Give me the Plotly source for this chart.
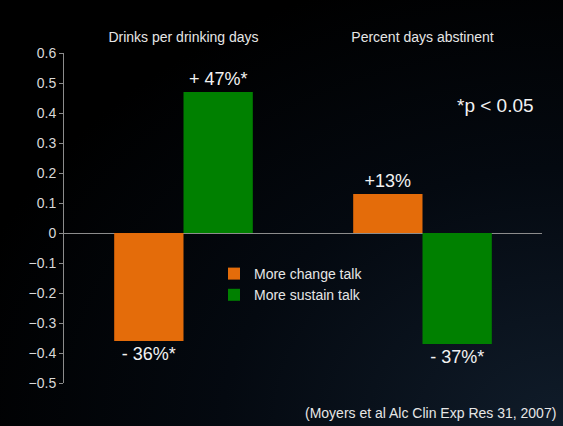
import base64
import plotly.graph_objects as go

categories = ["Drinks per drinking days", "Percent days abstinent"]
change_talk = [-0.36, 0.13]
sustain_talk = [0.47, -0.37]
change_labels = ["- 36%*", "+13%"]
sustain_labels = ["+ 47%*", "- 37%*"]
series_names = ["More change talk", "More sustain talk"]
y_ticks = [0.6, 0.5, 0.4, 0.3, 0.2, 0.1, 0, -0.1, -0.2, -0.3, -0.4, -0.5]

W, H = 563, 426
L, R, T, B = 64, 21, 53, 43
pw, ph = W - L - R, H - T - B
FONT = "Liberation Sans, Arial"

fig = go.Figure()
fig.add_trace(go.Bar(
    x=categories, y=change_talk, name=series_names[0],
    marker=dict(color="#E46C0A", line=dict(width=0)),
    text=change_labels, textposition="outside",
    textfont=dict(size=18, color="#f2f2f2", family=FONT),
    cliponaxis=False,
))
fig.add_trace(go.Bar(
    x=categories, y=sustain_talk, name=series_names[1],
    marker=dict(color="#008000", line=dict(width=0)),
    text=sustain_labels, textposition="outside",
    textfont=dict(size=18, color="#f2f2f2", family=FONT),
    cliponaxis=False,
))

svg = ('<svg xmlns="http://www.w3.org/2000/svg" width="563" height="426">'
       '<defs><radialGradient id="g" cx="1" cy="1" r="1.1" fx="1" fy="1">'
       '<stop offset="0" stop-color="#101c2a"/>'
       '<stop offset="0.55" stop-color="#040910"/>'
       '<stop offset="1" stop-color="#000000"/>'
       '</radialGradient></defs>'
       '<rect width="563" height="426" fill="url(#g)"/></svg>')
src = "data:image/svg+xml;base64," + base64.b64encode(svg.encode()).decode()

fig.update_layout(
    width=W, height=H,
    margin=dict(l=L, r=R, t=T, b=B),
    paper_bgcolor="#000000", plot_bgcolor="rgba(0,0,0,0)",
    barmode="group", bargap=0.42, bargroupgap=0,
    font=dict(family=FONT, color="#e6e6e6", size=14),
    showlegend=True,
    legend=dict(x=(214 - L) / pw, y=(383 - 258) / ph, xanchor="left", yanchor="top",
                bgcolor="rgba(0,0,0,0)", font=dict(size=14, color="#e6e6e6"),
                itemwidth=30, tracegroupgap=2),
    images=[dict(source=src, xref="paper", yref="paper",
                 x=-L / pw, y=1 + T / ph, sizex=W / pw, sizey=H / ph,
                 xanchor="left", yanchor="top", sizing="stretch", layer="below")],
    annotations=[
        dict(text="*p < 0.05", xref="paper", yref="paper",
             x=(495 - L) / pw, y=(383 - 105) / ph, xanchor="center", yanchor="middle",
             showarrow=False, font=dict(size=19, color="#f2f2f2")),
        dict(text="(Moyers et al Alc Clin Exp Res 31, 2007)", xref="paper", yref="paper",
             x=(558 - L) / pw, y=-(413 - 383) / ph, xanchor="right", yanchor="middle",
             showarrow=False, font=dict(size=14, color="#e6e6e6")),
    ],
)
fig.update_xaxes(side="top", showline=False, showgrid=False, zeroline=False,
                 ticks="", tickfont=dict(size=14, color="#e6e6e6"), ticklabelstandoff=7)
fig.update_yaxes(range=[-0.5, 0.6], tickvals=y_ticks, showgrid=False,
                 showline=True, linecolor="#8c8c8c", linewidth=1,
                 ticks="outside", ticklen=4, tickcolor="#8c8c8c",
                 zeroline=True, zerolinecolor="#8c8c8c", zerolinewidth=1,
                 tickfont=dict(size=14, color="#d9d9d9"))

fig.write_html("out.html")
